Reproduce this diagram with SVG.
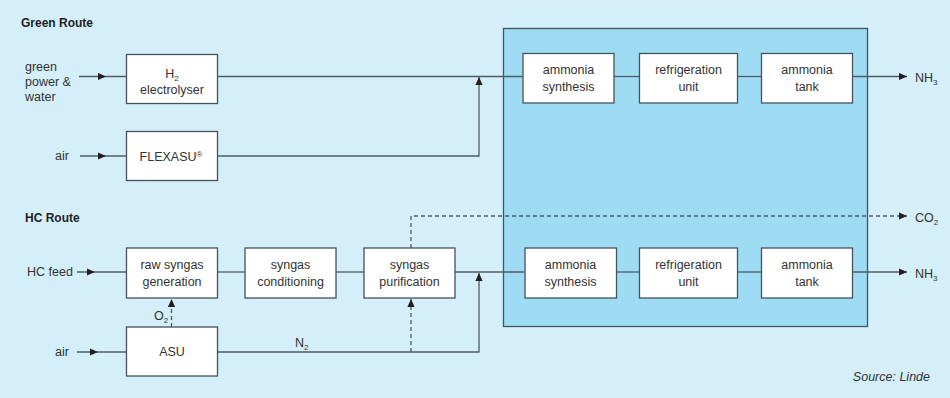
<svg xmlns="http://www.w3.org/2000/svg" width="950" height="398" viewBox="0 0 950 398">
<style>
.box{fill:#ffffff;stroke:#46525c;stroke-width:1.3}
.t{font-family:"Liberation Sans",Arial,sans-serif;font-size:12.5px;fill:#333333}
.c{text-anchor:middle}
.h{font-family:"Liberation Sans",Arial,sans-serif;font-size:12px;font-weight:bold;fill:#1e1e1e}
.ln{fill:none;stroke:#4e5c66;stroke-width:1.3}
.ds{fill:none;stroke:#4e5c66;stroke-width:1.3;stroke-dasharray:4 3}
.sub{font-size:8px}
</style>
<defs>
<marker id="ah" viewBox="0 0 10 10" refX="10" refY="5" markerWidth="8" markerHeight="8" markerUnits="userSpaceOnUse" orient="auto">
<path d="M0,0.5 L10,5 L0,9.5 z" fill="#231f20"/>
</marker>
</defs>
<rect x="0" y="0" width="950" height="398" fill="#d4eefa"/>
<rect id="ammonia-area" x="503.5" y="28.5" width="364" height="298" fill="#9ddcf3" stroke="#46525c" stroke-width="1.3"/>

<text class="h" x="21" y="26.5">Green Route</text>
<text class="h" x="25" y="222">HC Route</text>

<g id="connectors">
<polyline class="ln" points="79,76.5 106,76.5 126,76.5" marker-mid="url(#ah)"/>
<polyline class="ln" points="80,156 106,156 126,156" marker-mid="url(#ah)"/>
<polyline class="ln" points="77,272 95,272 126,272" marker-mid="url(#ah)"/>
<polyline class="ln" points="77,352 98,352 126,352" marker-mid="url(#ah)"/>
<line class="ln" x1="217" y1="76.5" x2="523" y2="76.5"/>
<polyline class="ln" points="217,156 479,156 479,77" marker-end="url(#ah)"/>
<line class="ln" x1="614" y1="76.5" x2="639" y2="76.5"/>
<line class="ln" x1="737" y1="76.5" x2="761" y2="76.5"/>
<line class="ln" x1="852" y1="76.5" x2="907" y2="76.5" marker-end="url(#ah)"/>
<line class="ln" x1="217" y1="272" x2="245" y2="272"/>
<line class="ln" x1="336" y1="272" x2="364" y2="272"/>
<line class="ln" x1="455" y1="272" x2="524" y2="272"/>
<line class="ln" x1="616" y1="272" x2="639" y2="272"/>
<line class="ln" x1="737" y1="272" x2="761" y2="272"/>
<line class="ln" x1="852" y1="272" x2="907" y2="272" marker-end="url(#ah)"/>
<polyline class="ln" points="217,352 479,352 479,273" marker-end="url(#ah)"/>
<line class="ds" x1="411" y1="352" x2="411" y2="299" marker-end="url(#ah)"/>
<polyline class="ds" points="411,248 411,216 907,216" marker-end="url(#ah)"/>
<line class="ds" x1="171.5" y1="327" x2="171.5" y2="299" marker-end="url(#ah)"/>
</g>

<text class="t" x="25" y="71">green</text>
<text class="t" x="25" y="86">power &amp;</text>
<text class="t" x="25" y="100.5">water</text>
<text class="t" x="55" y="160">air</text>
<text class="t" x="27" y="276">HC feed</text>
<text class="t" x="55" y="356">air</text>
<text class="t" x="154" y="320">O<tspan class="sub" dy="3">2</tspan></text>
<text class="t" x="295" y="347">N<tspan class="sub" dy="3">2</tspan></text>
<text class="t" x="915" y="82">NH<tspan class="sub" dy="3">3</tspan></text>
<text class="t" x="915" y="222">CO<tspan class="sub" dy="3">2</tspan></text>
<text class="t" x="915" y="278">NH<tspan class="sub" dy="3">3</tspan></text>
<text class="t" x="930" y="380.5" text-anchor="end" font-style="italic" fill="#444">Source: Linde</text>

<g id="h2-electrolyser">
<rect class="box" x="126.5" y="54.5" width="91" height="49"/>
<text class="t c" x="172" y="78">H<tspan class="sub" dy="3">2</tspan></text>
<text class="t c" x="172" y="94">electrolyser</text>
</g>
<g id="flexasu">
<rect class="box" x="126.5" y="131.5" width="91" height="49"/>
<text class="t c" x="171" y="160.5">FLEXASU<tspan font-size="8" dy="-4">®</tspan></text>
</g>
<g id="ammonia-synthesis-green">
<rect class="box" x="523" y="53.5" width="91" height="49.5"/>
<text class="t c" x="568.5" y="73.5">ammonia</text>
<text class="t c" x="568.5" y="90.5">synthesis</text>
</g>
<g id="refrigeration-green">
<rect class="box" x="639.5" y="53.5" width="98" height="49.5"/>
<text class="t c" x="688.5" y="73.5">refrigeration</text>
<text class="t c" x="688.5" y="90.5">unit</text>
</g>
<g id="ammonia-tank-green">
<rect class="box" x="761.5" y="53.5" width="91" height="49.5"/>
<text class="t c" x="807" y="73.5">ammonia</text>
<text class="t c" x="807" y="90.5">tank</text>
</g>

<g id="raw-syngas">
<rect class="box" x="126.5" y="248" width="91" height="50"/>
<text class="t c" x="172" y="269">raw syngas</text>
<text class="t c" x="172" y="286">generation</text>
</g>
<g id="syngas-conditioning">
<rect class="box" x="245" y="248" width="91" height="50"/>
<text class="t c" x="290.5" y="269">syngas</text>
<text class="t c" x="290.5" y="286">conditioning</text>
</g>
<g id="syngas-purification">
<rect class="box" x="364" y="248" width="91" height="50"/>
<text class="t c" x="409.5" y="269">syngas</text>
<text class="t c" x="409.5" y="286">purification</text>
</g>
<g id="ammonia-synthesis-hc">
<rect class="box" x="525" y="248" width="91.5" height="50"/>
<text class="t c" x="570.5" y="269">ammonia</text>
<text class="t c" x="570.5" y="286">synthesis</text>
</g>
<g id="refrigeration-hc">
<rect class="box" x="639.5" y="248" width="98" height="50"/>
<text class="t c" x="688.5" y="269">refrigeration</text>
<text class="t c" x="688.5" y="286">unit</text>
</g>
<g id="ammonia-tank-hc">
<rect class="box" x="761.5" y="248" width="91" height="50"/>
<text class="t c" x="807" y="269">ammonia</text>
<text class="t c" x="807" y="286">tank</text>
</g>
<g id="asu">
<rect class="box" x="126.5" y="327" width="91" height="49"/>
<text class="t c" x="172" y="356">ASU</text>
</g>
</svg>
